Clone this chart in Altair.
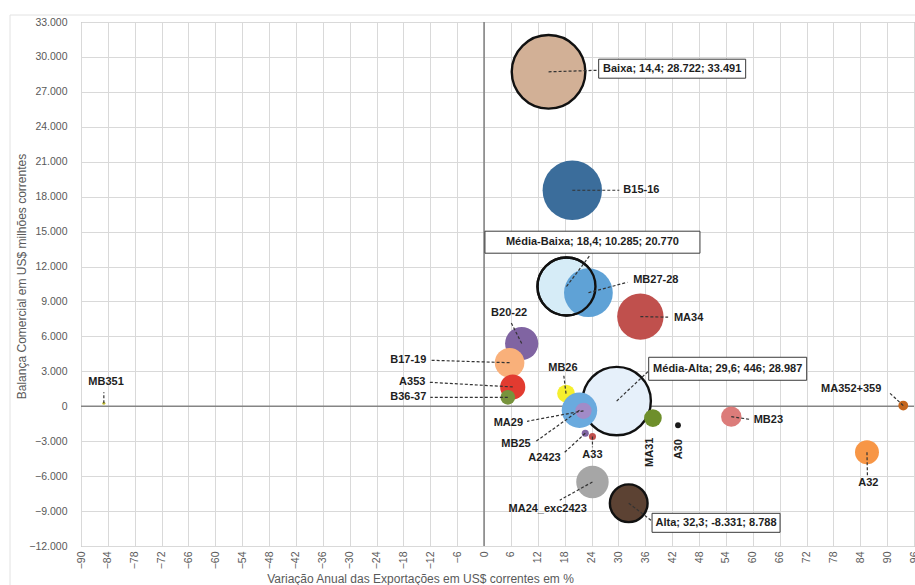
import math
import altair as alt
import pandas as pd

# Axis extents and plot-area size
X_MIN, X_MAX = -90, 96
Y_MIN, Y_MAX = -12000, 33000
W, H = 833, 524

# ---- Sectors: export growth (%), trade balance (US$ mn), bubble size
sector_names = ["B15-16", "MB27-28", "MA34", "B20-22", "B17-19", "A353", "B36-37",
                "MB26", "MB25", "MA29", "A2423", "A33", "MA31", "A30",
                "MA24_exc2423", "MB23", "A32", "MA352+359", "MB351"]
sector_x = [19.7, 23.3, 34.9, 8.4, 5.7, 6.4, 5.3,
            18.3, 21.3, 22.2, 22.6, 24.2, 37.7, 43.3,
            24.2, 55.2, 85.5, 93.6, -84.9]
sector_y = [18550, 9750, 7700, 5390, 3740, 1660, 770,
            1090, -340, -390, -2320, -2600, -1010, -1630,
            -6500, -890, -3950, 60, 260]
sector_size = [21800, 14700, 13300, 6800, 5400, 3900, 1340,
               1940, 7760, 1640, 310, 310, 1940, 210,
               6500, 2570, 3540, 590, 60]
sector_colors = ["#3b6d9b", "#5fa2d6", "#c0504d", "#8064a2", "#f9b07a", "#e23b30", "#77933c",
                 "#f5ef2e", "#6aaade", "#a28bc8", "#8064a2", "#c0504d", "#6e8f2b", "#1a1a1a",
                 "#a6a6a6", "#dc7c7a", "#f79646", "#c4651c", "#c9c43a"]

# ---- Technology-intensity aggregates
group_names = ["Baixa", "Média-Baixa", "Média-Alta", "Alta"]
group_x = [14.4, 18.4, 29.6, 32.3]
group_y = [28722, 10285, 446, -8331]
group_size = [33491, 20770, 28987, 8788]
group_colors = ["#d2b096", "#d6ecf7", "#e6f0fa", "#5c4233"]

# ---- Label placement (data units): anchor, leader end, kind
label_pos = {
    "B15-16": (31.1, 18550, 30.2, 18550, "left"),
    "MB27-28": (33.3, 10820, 32.0, 10650, "left"),
    "MA34": (42.4, 7560, 41.1, 7650, "left"),
    "B20-22": (5.6, 7990, 6.0, 7220, "center"),
    "B17-19": (-12.9, 3950, -12.0, 3950, "right"),
    "A353": (-13.1, 2060, -12.2, 2060, "right"),
    "B36-37": (-12.9, 770, -12.0, 770, "right"),
    "MB26": (17.6, 3260, 17.8, 2660, "center"),
    "MB25": (10.4, -3260, 11.3, -3090, "right"),
    "MA29": (8.7, -1460, 9.6, -1290, "right"),
    "A2423": (17.1, -4470, 18.0, -3950, "right"),
    "A33": (24.2, -4210, 24.2, -3520, "center"),
    "MA31": (37.1, -3950, None, None, "vertical"),
    "A30": (43.5, -3690, None, None, "vertical"),
    "MA24_exc2423": (14.2, -8850, 16.9, -8070, "center"),
    "MB23": (60.2, -1200, 59.3, -1120, "left"),
    "A32": (85.8, -6610, 85.6, -5930, "center"),
    "MA352+359": (88.7, 1460, 90.4, 1200, "right"),
    "MB351": (-84.4, 2060, -84.9, 1200, "center"),
    "Baixa": (42.0, 28990, 25.8, 28860, "box"),
    "Média-Baixa": (24.2, 14090, 23.5, 12890, "box"),
    "Média-Alta": (54.4, 3220, 36.7, 3010, "box"),
    "Alta": (51.8, -10010, 37.6, -9880, "box"),
}
# Framed label boxes, in pixels (width, height)
box_px = {"Baixa": (147, 19), "Média-Baixa": (215, 22), "Média-Alta": (158, 23), "Alta": (128, 19)}


def pt_num(v, decimals=0):
    """Portuguese number style: '.' thousands, ',' decimals."""
    s = f"{v:,.{decimals}f}"
    return s.replace(",", "#").replace(".", ",").replace("#", ".")


rows = []
for n, x, y, s in zip(sector_names, sector_x, sector_y, sector_size):
    rows.append(dict(name=n, x=x, y=y, size=s, group=False, text=n))
for n, x, y, s in zip(group_names, group_x, group_y, group_size):
    txt = f"{n}; {pt_num(x, 1)}; {pt_num(y)}; {pt_num(s)}"
    rows.append(dict(name=n, x=x, y=y, size=s, group=True, text=txt))

px_x = W / (X_MAX - X_MIN)
px_y = H / (Y_MAX - Y_MIN)
for r in rows:
    lx, ly, ex, ey, kind = label_pos[r["name"]]
    r.update(lx=lx, ly=ly, ex=ex if ex is not None else math.nan,
             ey=ey if ey is not None else math.nan, kind=kind)
    if kind == "box":
        bw, bh = box_px[r["name"]]
        r.update(bx1=lx - bw / 2 / px_x, bx2=lx + bw / 2 / px_x,
                 by1=ly - bh / 2 / px_y, by2=ly + bh / 2 / px_y)

df = pd.DataFrame(rows)

all_names = group_names + sector_names
all_colors = group_colors + sector_colors

FONT = "Liberation Sans"
x_ticks = list(range(-90, 97, 6))
y_ticks = list(range(-12000, 33001, 3000))
xscale = alt.Scale(domain=[X_MIN, X_MAX], nice=False, zero=False)
yscale = alt.Scale(domain=[Y_MIN, Y_MAX], nice=False, zero=False)
size_scale = alt.Scale(domain=[0, 33491], range=[0, 5420], zero=True)
color_scale = alt.Scale(domain=all_names, range=all_colors)

x_axis = alt.Axis(
    values=x_ticks, tickCount=len(x_ticks), labelAngle=270, labelFont=FONT, labelFontSize=10.5,
    labelColor="#595959", labelPadding=5, labelOverlap=False, labelFlush=False,
    ticks=False, domain=False, grid=True, gridColor="#d9d9d9", gridWidth=1,
    title="Variação Anual das Exportações em US$ correntes em %",
    titleFont=FONT, titleFontSize=12, titleFontWeight="normal", titleColor="#595959",
    titleX=339, titleY=32, titleAlign="center", titleBaseline="middle",
)
y_axis = alt.Axis(
    values=y_ticks, tickCount=len(y_ticks),
    labelExpr="replace(format(datum.value, ','), ',', '.')",
    labelFont=FONT, labelFontSize=10.5, labelColor="#595959", labelPadding=14,
    labelOverlap=False, labelFlush=False,
    ticks=False, domain=False, grid=True, gridColor="#d9d9d9", gridWidth=1,
    title="Balança Comercial em US$ milhões correntes",
    titleFont=FONT, titleFontSize=12, titleFontWeight="normal", titleColor="#595959",
    titleX=-60, titleY=254, titleAngle=270, titleAlign="center", titleBaseline="middle",
)

base = alt.Chart(df)

# Zero lines
zero_x = alt.Chart(pd.DataFrame({"v": [0]})).mark_rule(color="#858585", strokeWidth=1.6).encode(
    x=alt.X("v:Q", scale=xscale, axis=x_axis))
zero_y = alt.Chart(pd.DataFrame({"v": [0]})).mark_rule(color="#858585", strokeWidth=1.6).encode(
    y=alt.Y("v:Q", scale=yscale, axis=y_axis))

# Outer chart-area border
outer_v = alt.Chart(pd.DataFrame({"v": [0]})).mark_rule(color="#e2e2e2", strokeWidth=1).encode(
    x=alt.value(-71), y=alt.value(-7), y2=alt.value(H + 40))
outer_h = alt.Chart(pd.DataFrame({"v": [0]})).mark_rule(color="#e2e2e2", strokeWidth=1).encode(
    x=alt.value(-71), x2=alt.value(W + 10), y=alt.value(-7))

enc = dict(
    x=alt.X("x:Q", scale=xscale, axis=x_axis),
    y=alt.Y("y:Q", scale=yscale, axis=y_axis),
    size=alt.Size("size:Q", scale=size_scale, legend=None),
    color=alt.Color("name:N", scale=color_scale, legend=None),
)

groups = base.transform_filter("datum.group").mark_circle(
    opacity=1, stroke="#111111", strokeWidth=2.4).encode(**enc)
sectors = base.transform_filter("!datum.group").mark_circle(opacity=1).encode(**enc)
mb_outline = base.transform_filter("datum.name == 'Média-Baixa'").mark_point(
    filled=False, shape="circle", opacity=1, stroke="#111111", strokeWidth=2.4).encode(
    x=alt.X("x:Q", scale=xscale), y=alt.Y("y:Q", scale=yscale),
    size=alt.Size("size:Q", scale=size_scale, legend=None))

leaders = base.transform_filter("isValid(datum.ex) && isFinite(datum.ex)").mark_rule(
    color="#333333", strokeWidth=1.2, strokeDash=[3, 2]).encode(
    x=alt.X("x:Q", scale=xscale), y=alt.Y("y:Q", scale=yscale),
    x2="ex:Q", y2="ey:Q")

boxes = base.transform_filter("datum.kind == 'box'").mark_rect(
    fill="white", stroke="#3a3a3a", strokeWidth=1).encode(
    x=alt.X("bx1:Q", scale=xscale), x2="bx2:Q",
    y=alt.Y("by1:Q", scale=yscale), y2="by2:Q")


def text_layer(kinds, align, angle=0):
    expr = " || ".join(f"datum.kind == '{k}'" for k in kinds)
    return base.transform_filter(expr).mark_text(
        align=align, baseline="middle", angle=angle, font=FONT, fontSize=11,
        fontWeight="bold", color="#1e1e1e").encode(
        x=alt.X("lx:Q", scale=xscale), y=alt.Y("ly:Q", scale=yscale), text="text:N")


labels = [
    text_layer(["left"], "left"),
    text_layer(["center", "box"], "center"),
    text_layer(["right"], "right"),
    text_layer(["vertical"], "center", 270),
]

chart = alt.layer(
    zero_x, zero_y, outer_v, outer_h, groups, sectors, mb_outline, leaders, boxes, *labels
).properties(
    width=W, height=H,
    autosize=alt.AutoSizeParams(type="none"),
    padding={"left": 81, "top": 22, "right": 1, "bottom": 39},
    background="white",
).configure_view(stroke="#a0a0a0", strokeWidth=1)

chart.save("out.html", embed_options={"renderer": "svg", "actions": False})
